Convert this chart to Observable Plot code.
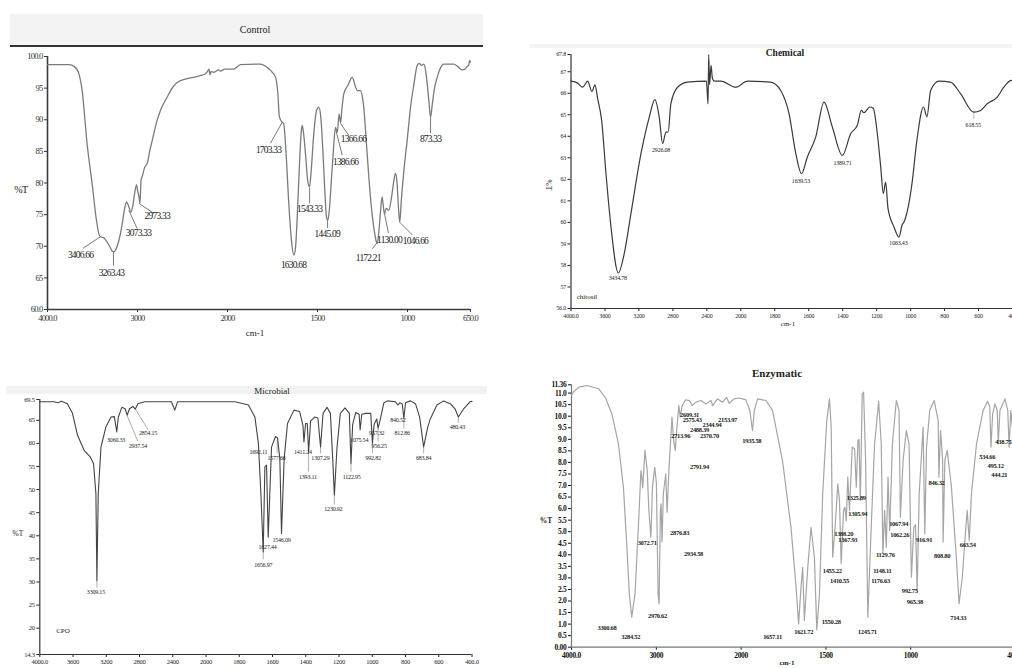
<!DOCTYPE html>
<html>
<head>
<meta charset="utf-8">
<script src="https://cdn.jsdelivr.net/npm/d3@7"></script>
<script src="https://cdn.jsdelivr.net/npm/@observablehq/plot@0.6"></script>
<style>
  body { margin: 0; background: #fff; }
  #root { position: relative; width: 1012px; height: 668px; overflow: hidden; background: #fff; font-family: "Liberation Serif", serif; color: #222; }
  .abs { position: absolute; }
  .ctr { position: absolute; transform: translate(-50%, -50%); white-space: nowrap; }
  .ctrl text { letter-spacing: -0.8px; }
  .chem text { letter-spacing: -0.2px; }
  .mic text { letter-spacing: -0.2px; }
  .enz text { letter-spacing: -0.3px; }
  svg { overflow: hidden; }
</style>
</head>
<body>
<div id="root">
  <div class="abs" style="left:10px;top:14px;width:473px;height:31px;background:#f3f3f3;border-bottom:2px solid #333;"></div>
  <div class="ctr" style="left:255px;top:29px;font-size:10px;">Control</div>
  <div class="abs" style="left:530px;top:44px;width:482px;height:4px;background:#f4f4f4;"></div>
  <div class="abs" style="left:6px;top:386px;width:481px;height:8px;background:#f2f2f2;"></div>

  <div id="control" class="abs ctrl" style="left:0px;top:50px;width:490px;height:290px;"></div>
  <div id="chemical" class="abs chem" style="left:530px;top:40px;width:482px;height:295px;"></div>
  <div id="microbial" class="abs mic" style="left:0px;top:390px;width:490px;height:278px;"></div>
  <div id="enzymatic" class="abs enz" style="left:510px;top:378px;width:502px;height:290px;"></div>

  <div class="ctr" style="left:21px;top:189px;font-size:10px;letter-spacing:-0.5px;">%T</div>
  <div class="ctr" style="left:255px;top:333px;font-size:9px;">cm-1</div>

  <div class="ctr" style="left:785px;top:53px;font-size:9.5px;font-weight:bold;">Chemical</div>
  <div class="ctr" style="left:548px;top:185px;font-size:7.5px;transform:translate(-50%,-50%) rotate(90deg);">%T</div>
  <div class="ctr" style="left:788px;top:324px;font-size:7px;">cm-1</div>
  <div class="ctr" style="left:587px;top:297px;font-size:7px;">chitosil</div>

  <div class="ctr" style="left:272px;top:391px;font-size:9px;">Microbial</div>
  <div class="ctr" style="left:18px;top:533px;font-size:7.5px;">%T</div>
  <div class="ctr" style="left:63px;top:631px;font-size:7px;color:#222;">CPO</div>

  <div class="ctr" style="left:777px;top:373px;font-size:11px;font-weight:bold;">Enzymatic</div>
  <div class="ctr" style="left:546px;top:520px;font-size:7.5px;font-weight:bold;">%T</div>
  <div class="ctr" style="left:787px;top:663px;font-size:7px;font-weight:bold;">cm-1</div>
</div>
<script>
// ---------------- Control ----------------
const controlWavenumber = [4000,3760,3700,3652,3615,3560,3500,3460,3430,3411,
  3380,3355,3310,3280,3263,3240,3205,3170,3140,3122,
  3100,3073,3050,3030,3011,2995,2985,2973,2960,2948,
  2920,2892,2865,2837,2790,2744,2670,2600,2559,2448,
  2380,2300,2250,2215,2207,2195,2185,2150,2100,2078,
  2030,1967,1928,1817,1790,1761,1733,1720,1712,1696,
  1688,1675,1660,1645,1631,1622,1612,1600,1590,1585,
  1578,1565,1555,1544,1535,1520,1505,1493,1482,1470,
  1458,1450,1443,1435,1425,1412,1400,1390,1380,1372,
  1365,1354,1330,1307,1290,1279,1261,1250,1243,1230,
  1215,1200,1185,1172,1168,1160,1150,1141,1135,1128,
  1118,1104,1090,1075,1067,1058,1050,1043,1035,1020,
  1002,983,965,946,935,922,909,898,888,880,
  872,862,850,835,820,798,743,720,697,680,
  669,660,655,650];
const controlTransmittance = [98.7,98.7,98.4,97.3,94.6,86.2,79.4,74.5,72.0,71.5,
  71.4,71.0,70.0,69.2,69.1,69.5,71.0,73.5,76.2,77.0,
  76.4,75.4,76.6,78.5,79.7,78.5,78.0,76.8,80.5,81.0,
  82.5,83.1,85.0,86.7,89.5,91.5,93.6,95.3,95.9,96.5,
  96.7,97.0,97.2,97.8,98.0,97.1,97.6,97.5,97.9,97.7,
  98.0,98.0,98.7,98.8,98.5,97.8,96.7,94.0,90.5,89.6,
  89.4,84.9,77,71,68.6,69.8,75,83,88.2,89.1,
  88,84,80.5,79.4,82,88,91.5,92.0,90.5,85,
  78,74.6,74.1,75.5,79.5,85,88.8,88.0,90.9,89.5,
  91.5,94.1,95.5,96.7,95.3,94.6,94.6,93.5,92.0,87,
  81,76,72.5,70.6,70.4,72,75.5,77.8,76.5,75.1,
  76.0,75.7,77.5,80.5,81.5,80.0,76,73.8,77,82,
  86.7,92.0,95.5,98.6,98.9,98.6,98.8,97.5,95,92.5,
  90.4,92.5,95,96.7,98.0,98.8,98.8,98.4,97.9,98.0,
  98.4,98.6,99.4,99.1];
const controlPeakText = ["3406.66","3263.43","3073.33","2973.33","1703.33","1630.68","1543.33","1445.09","1386.66","1366.66","1172.21","1130.00","1046.66","873.33"];
const controlPeakLabelWn = [3633,3289,2989,2781,1772,1633,1544,1446,1344,1300,1218,1100,956,872];
const controlPeakLabelT = [68.6,65.8,72.1,74.8,85.2,67.1,75.9,71.9,83.4,86.9,68.2,71.0,70.9,86.9];
const controlLeaders = [[3411,71.5,3605,69.7],[3267,69.1,3267,66.9],[3097,75.7,3004,72.8],[2985,76.8,2819,75.2],
  [1696,89.6,1761,86.3],[1544,79.3,1544,76.8],[1444,74.1,1444,72.9],[1400,88.6,1363,84.4],[1372,89.4,1326,87.5],
  [1168,70.6,1196,69.6],[1128,75.2,1106,72.1],[1043,73.8,974,71.8],[872,90.4,872,87.9]];
const controlXTicks = [4000,3000,2000,1500,1000,650];
const controlXTickText = ["4000.0","3000","2000","1500","1000","650.0"];
const controlYTicks = [100,95,90,85,80,75,70,65,60];
const controlYTickText = ["100.0","95","90","85","80","75","70","65","60.0"];

// ---------------- Chemical ----------------
const chemicalWavenumber = [4000,3922,3863,3804,3753,3718,3686,3639,3588,3529,
  3443,3373,3294,3176,3078,3012,2961,2921,2882,2855,
  2824,2745,2627,2405,2386,2378,2368,2350,2335,2310,
  2235,2059,1961,1824,1765,1716,1676,1643,1608,1559,
  1510,1461,1402,1353,1314,1290,1275,1240,1220,1196,
  1176,1161,1147,1133,1098,1069,1049,1040,992,963,
  924,904,882,833,765,706,628,588,549,490,
  451,412,400];
const chemicalTransmittance = [66.56,66.47,66.28,66.56,66.08,66.39,65.75,64.74,62.26,59.79,
  57.65,58.55,60.41,63.19,64.89,65.70,64.89,63.66,64.19,64.2,
  65.51,66.28,66.52,66.56,65.5,67.8,66.4,67.3,66.7,66.56,
  66.56,66.28,66.56,66.52,66.13,65.05,63.19,62.26,63.04,63.96,
  65.59,64.43,63.11,64.12,64.51,65.2,65.1,65.36,65.3,64.12,
  62.57,61.34,61.87,60.64,59.79,59.32,59.9,60.0,61.8,63.81,
  65.36,64.9,66.13,66.56,66.52,65.98,65.12,65.2,65.51,65.82,
  66.28,66.59,66.6];
const chemicalPeakText = ["3434.78","2926.08","1639.53","1389.71","1063.43","618.55"];
const chemicalPeakLabelWn = [3449,2939,1646,1401,1072,631];
const chemicalPeakLabelT = [57.42,63.38,61.92,62.77,59.02,64.54];
const chemicalLeaders = [[628,65.12,628,64.8]];
const chemicalXTicks = [4000,3600,3200,2800,2400,2000,1800,1600,1400,1200,1000,800,600,400];
const chemicalXTickText = ["4000.0","3600","3200","2800","2400","2000","1800","1600","1400","1200","1000","800","600","400"];
const chemicalYTicks = [67.8,67,66,65,64,63,62,61,60,59,58,57,56];
const chemicalYTickText = ["67.8","67","66","65","64","63","62","61","60","59","58","57","56.0"];

// ---------------- Microbial ----------------
const microbialWavenumber = [4000,3830,3782,3741,3668,3607,3547,3467,3394,3353,
  3325,3313,3297,3264,3204,3143,3103,3074,3055,3013,
  2973,2949,2921,2880,2852,2820,2739,2416,2376,2343,
  1825,1745,1706,1685,1670,1656,1646,1636,1626,1606,
  1582,1570,1556,1546,1530,1510,1471,1437,1417,1411,
  1401,1391,1383,1371,1347,1327,1311,1296,1272,1252,
  1238,1228,1212,1192,1164,1138,1128,1118,1099,1079,
  1073,1063,1039,1009,999,989,973,965,953,930,
  909,860,846,834,820,810,800,770,740,715,
  691,667,651,611,571,531,501,482,452,412,
  400];
const microbialTransmittance = [69.0,69.0,68.8,69.1,68.6,66.5,61.8,58.5,57.1,55.6,
  49.1,30.3,49.1,59.2,63.6,65.7,65.8,62.5,65.7,67.8,
  67.5,66.1,67.5,68.0,67.4,68.6,69.0,69.0,67.2,69.0,
  69.0,68.3,65.7,60.0,49.1,36.5,54.9,55.3,39.7,59.2,
  61.5,61.2,56.7,40.5,56.7,64.3,67.2,66.9,63.9,60.3,
  64.3,64.3,58.1,64.8,65.7,65.5,59.2,66.5,67.8,66.5,
  56.7,48.8,59.2,66.5,67.7,66.5,55.6,64.1,66.7,66.3,
  62.9,66.3,66.5,66.5,60.0,64.1,65.3,63.3,65.0,68.8,
  69.2,69.0,68.3,68.8,68.6,65.4,68.8,69.2,68.6,65.7,
  59.2,63.4,65.3,68.3,69.2,68.6,67.4,65.7,67.4,69.0,
  69.1];
const microbialPeakText = ["3309.15","3060.33","2937.54","2854.15","1692.11","1577.66","1627.44","1656.97","1546.09","1411.24","1393.11","1307.29","1230.92","1122.95","1075.54","992.82","957.32","956.25","840.52","812.86","683.84","480.43"];
const microbialPeakLabelWn = [3325,3082,2819,2698,1685,1576,1630,1656,1546,1417,1387,1312,1234,1124,1079,995,973,959,846,820,691,488];
const microbialPeakLabelT = [27.8,60.8,59.5,62.2,58.1,56.8,37.5,33.6,39.0,58.1,52.7,56.8,45.7,52.7,60.8,56.8,62.2,59.5,65.0,62.2,56.8,63.5];
const microbialLeaders = [[3313,30.3,3313,28.8],[2949,66.0,2819,60.4],[2852,67.5,2698,63.0],[1572,61.0,1572,57.9],
  [1656,36.4,1656,34.9],[1383,58.0,1383,53.9],[1311,59.1,1311,57.8],[1228,48.7,1228,46.8],[1128,55.5,1128,53.9],
  [999,60.0,999,57.9],[965,63.3,965,60.4],[810,65.4,810,63.2],[691,59.1,691,57.8],[482,65.6,482,64.5]];
const microbialXTicks = [4000,3600,3200,2800,2400,2000,1800,1600,1400,1200,1000,800,600,400];
const microbialXTickText = ["4000.0","3600","3200","2800","2400","2000","1800","1600","1400","1200","1000","800","600","400.0"];
const microbialYTicks = [69.5,65,60,55,50,45,40,35,30,25,20,14.3];
const microbialYTickText = ["69.5","65","60","55","50","45","40","35","30","25","20","14.3"];

// ---------------- Enzymatic ----------------
const enzymaticWavenumber = [4000,3980,3914,3816,3681,3602,3524,3447,3388,3349,
  3318,3290,3251,3212,3181,3172,3160,3134,3107,3088,
  3064,3045,3018,2999,2979,2967,2952,2944,2932,2917,
  2889,2873,2850,2815,2796,2776,2757,2734,2718,2695,
  2655,2609,2578,2531,2473,2414,2355,2336,2278,2219,
  2172,2141,2083,2024,1972,1949,1933,1922,1903,1874,
  1854,1815,1756,1706,1676,1661,1647,1637,1627,1607,
  1588,1568,1554,1538,1519,1495,1479,1469,1460,1446,
  1430,1420,1410,1396,1388,1380,1371,1361,1345,1331,
  1321,1311,1305,1297,1286,1278,1266,1253,1233,1213,
  1189,1174,1164,1154,1144,1134,1124,1108,1085,1069,
  1061,1045,1026,1010,996,982,972,962,950,927,
  917,907,888,862,838,834,824,812,809,799,
  785,760,730,715,696,675,667,655,642,612,
  573,547,534,527,517,503,490,484,474,444,
  428,420,410,400];
const enzymaticTransmittance = [10.9,11.04,11.26,11.33,11.19,10.82,10.10,8.81,6.93,4.48,
  2.31,1.30,2.31,5.19,7.65,7.4,6.9,8.52,7.65,5.92,
  4.76,6.93,7.79,7.1,2.31,1.88,5.92,6.21,4.57,6.64,
  7.5,5.84,7.79,9.96,8.95,8.52,9.53,10.46,9.96,10.46,
  10.71,10.68,10.46,10.61,10.68,10.53,10.68,10.46,10.75,10.61,
  10.82,10.56,10.75,10.79,10.71,10.25,9.38,10.25,10.75,10.71,
  10.68,10.25,8.08,5.19,2.60,1.01,2.6,3.46,1.16,3.46,
  5.19,3.9,0.75,2.31,6.64,9.81,10.75,9.53,3.90,5.19,
  7.07,6.35,3.61,5.92,6.06,5.48,7.36,5.92,8.66,8.59,
  6.93,8.95,9.0,6.35,10.97,11.04,8.08,1.30,5.19,8.81,
  10.65,8.81,4.04,5.92,4.33,7.36,5.05,8.81,10.68,10.25,
  5.63,8.08,9.38,8.81,3.03,5.19,5.3,2.45,6.64,9.53,
  4.9,8.66,10.25,10.68,9.81,7.36,9.38,8.08,4.55,8.08,
  8.52,6.93,3.75,1.88,3.03,5.19,5.92,4.62,6.64,8.81,
  10.25,10.65,10.4,8.66,10.1,10.53,10.25,8.81,10.25,10.75,
  10.25,8.66,10.25,9.5];
const enzymaticPeakText = ["3300.68","3284.52","3072.71","2970.62","2876.83","2934.58","2791.94","2713.96","2609.31","2575.43","2488.39","2370.70","2344.94","2153.97","1935.58","1657.11","1621.72","1550.28","1455.22","1410.55","1388.20","1367.93","1325.89","1305.94","1245.71","1176.63","1148.11","1129.76","1067.94","1062.26","992.75","965.38","916.91","846.32","808.80","714.33","663.54","534.66","495.12","444.21","438.75"];
const enzymaticPeakLabelWn = [3582,3302,3108,2986,2725,2561,2491,2713,2608,2577,2491,2374,2343,2160,1937,1815,1631,1469,1463,1420,1395,1371,1321,1312,1256,1178,1167,1150,1071,1065,1006,976,921,848,815,720,664,549,500,478,454];
const enzymaticPeakLabelT = [0.82,0.46,4.50,1.36,4.94,4.04,7.82,9.16,10.07,9.84,9.41,9.16,9.63,9.84,8.95,0.43,0.65,1.08,3.32,2.89,4.91,4.66,6.47,5.77,0.65,2.89,3.32,3.98,5.34,4.88,2.42,1.98,4.65,7.10,3.97,1.27,4.42,8.22,7.85,7.45,8.90];
const enzymaticXTicks = [4000,3000,2000,1500,1000,400];
const enzymaticXTickText = ["4000.0","3000","2000","1500","1000","400"];
const enzymaticYTicks = [11.36,11,10.5,10,9.5,9,8.5,8,7.5,7,6.5,6,5.5,5,4.5,4,3.5,3,2.5,2,1.5,1,0.5,0];
const enzymaticYTickText = ["11.36","11.0","10.5","10.0","9.5","9.0","8.5","8.0","7.5","7.0","6.5","6.0","5.5","5.0","4.5","4.0","3.5","3.0","2.5","2.0","1.5","1.0","0.5","0.00"];

// FTIR convention: below 2000 cm-1 the wavenumber axis is stretched twofold.
const warp = w => (w >= 2000 ? 4000 - w : 2000 + 2 * (2000 - w));

function panel(o) {
  const series = d3.zip(o.wn, o.t).map(([w, t]) => ({x: warp(w), t}));
  const labels = d3.zip(o.labelText, o.labelWn, o.labelT).map(([s, w, t]) => ({s, x: warp(w), t}));
  const leaders = (o.leaders || []).map(([w1, t1, w2, t2]) => ({x1: warp(w1), t1, x2: warp(w2), t2}));
  const xTicks = o.xTicks.map(warp);
  const xf = new Map(xTicks.map((d, i) => [d, o.xTickText[i]]));
  const yf = new Map(o.yTicks.map((d, i) => [d, o.yTickText[i]]));
  const xDomain = [warp(o.xFrom), warp(o.xTo)];
  const chart = Plot.plot({
    width: o.width, height: o.height,
    marginLeft: o.m[3], marginRight: o.m[1], marginTop: o.m[0], marginBottom: o.m[2],
    style: {background: "transparent", fontFamily: "Liberation Serif", fontSize: o.tickFont + "px", fontWeight: o.bold ? "bold" : "normal", color: o.tickColor, overflow: "hidden"},
    x: {domain: xDomain, ticks: xTicks, tickFormat: d => xf.get(d), tickSize: 3, tickPadding: 2, label: null},
    y: {domain: o.yDomain, ticks: o.yTicks, tickFormat: d => yf.get(d), tickSize: 3, tickPadding: 2, label: null},
    marks: [
      Plot.ruleY([o.yDomain[0]], {stroke: o.axisColor, strokeWidth: o.axisWidth}),
      Plot.ruleX([xDomain[0]], {stroke: o.axisColor, strokeWidth: o.axisWidth}),
      Plot.link(leaders, {x1: "x1", y1: "t1", x2: "x2", y2: "t2", stroke: o.leaderColor, strokeWidth: 0.8}),
      Plot.line(series, {x: "x", y: "t", stroke: o.stroke, strokeWidth: o.strokeWidth, curve: o.curve}),
      Plot.text(labels, {x: "x", y: "t", text: "s", fontSize: o.labelFont, fontWeight: o.bold ? "bold" : "normal", fill: "#1a1a1a", fontFamily: "Liberation Serif"})
    ]
  });
  document.getElementById(o.el).appendChild(chart);
}

panel({el: "control", width: 490, height: 290, m: [6, 20, 31, 47],
  wn: controlWavenumber, t: controlTransmittance,
  labelText: controlPeakText, labelWn: controlPeakLabelWn, labelT: controlPeakLabelT, leaders: controlLeaders,
  xFrom: 4000, xTo: 650, yDomain: [60, 100],
  xTicks: controlXTicks, xTickText: controlXTickText, yTicks: controlYTicks, yTickText: controlYTickText,
  stroke: "#7a7a7a", strokeWidth: 1.3, curve: "monotone-x", axisColor: "#3a3a3a", axisWidth: 1.6,
  leaderColor: "#555", tickFont: 8.5, labelFont: 9.5, tickColor: "#333", bold: false});

panel({el: "chemical", width: 482, height: 295, m: [14, 0, 27, 40.5],
  wn: chemicalWavenumber, t: chemicalTransmittance,
  labelText: chemicalPeakText, labelWn: chemicalPeakLabelWn, labelT: chemicalPeakLabelT, leaders: chemicalLeaders,
  xFrom: 4000, xTo: 400, yDomain: [56, 67.8],
  xTicks: chemicalXTicks, xTickText: chemicalXTickText, yTicks: chemicalYTicks, yTickText: chemicalYTickText,
  stroke: "#3a3a3a", strokeWidth: 1.2, curve: "monotone-x", axisColor: "#333", axisWidth: 1.2,
  leaderColor: "#aaa", tickFont: 6, labelFont: 6, tickColor: "#222", bold: false});

panel({el: "microbial", width: 490, height: 278, m: [9, 18.5, 14, 39.3],
  wn: microbialWavenumber, t: microbialTransmittance,
  labelText: microbialPeakText, labelWn: microbialPeakLabelWn, labelT: microbialPeakLabelT, leaders: microbialLeaders,
  xFrom: 4000, xTo: 400, yDomain: [14.3, 69.5],
  xTicks: microbialXTicks, xTickText: microbialXTickText, yTicks: microbialYTicks, yTickText: microbialYTickText,
  stroke: "#444", strokeWidth: 1.1, curve: "linear", axisColor: "#333", axisWidth: 1.2,
  leaderColor: "#999", tickFont: 6.5, labelFont: 6, tickColor: "#222", bold: false});

panel({el: "enzymatic", width: 502, height: 290, m: [6.3, 0, 21.3, 61],
  wn: enzymaticWavenumber, t: enzymaticTransmittance,
  labelText: enzymaticPeakText, labelWn: enzymaticPeakLabelWn, labelT: enzymaticPeakLabelT, leaders: [],
  xFrom: 4000, xTo: 400, yDomain: [0, 11.36],
  xTicks: enzymaticXTicks, xTickText: enzymaticXTickText, yTicks: enzymaticYTicks, yTickText: enzymaticYTickText,
  stroke: "#a5a5a5", strokeWidth: 1.2, curve: "linear", axisColor: "#777", axisWidth: 1.2,
  leaderColor: "#999", tickFont: 7.5, labelFont: 6.5, tickColor: "#111", bold: true});
</script>
</body>
</html>
